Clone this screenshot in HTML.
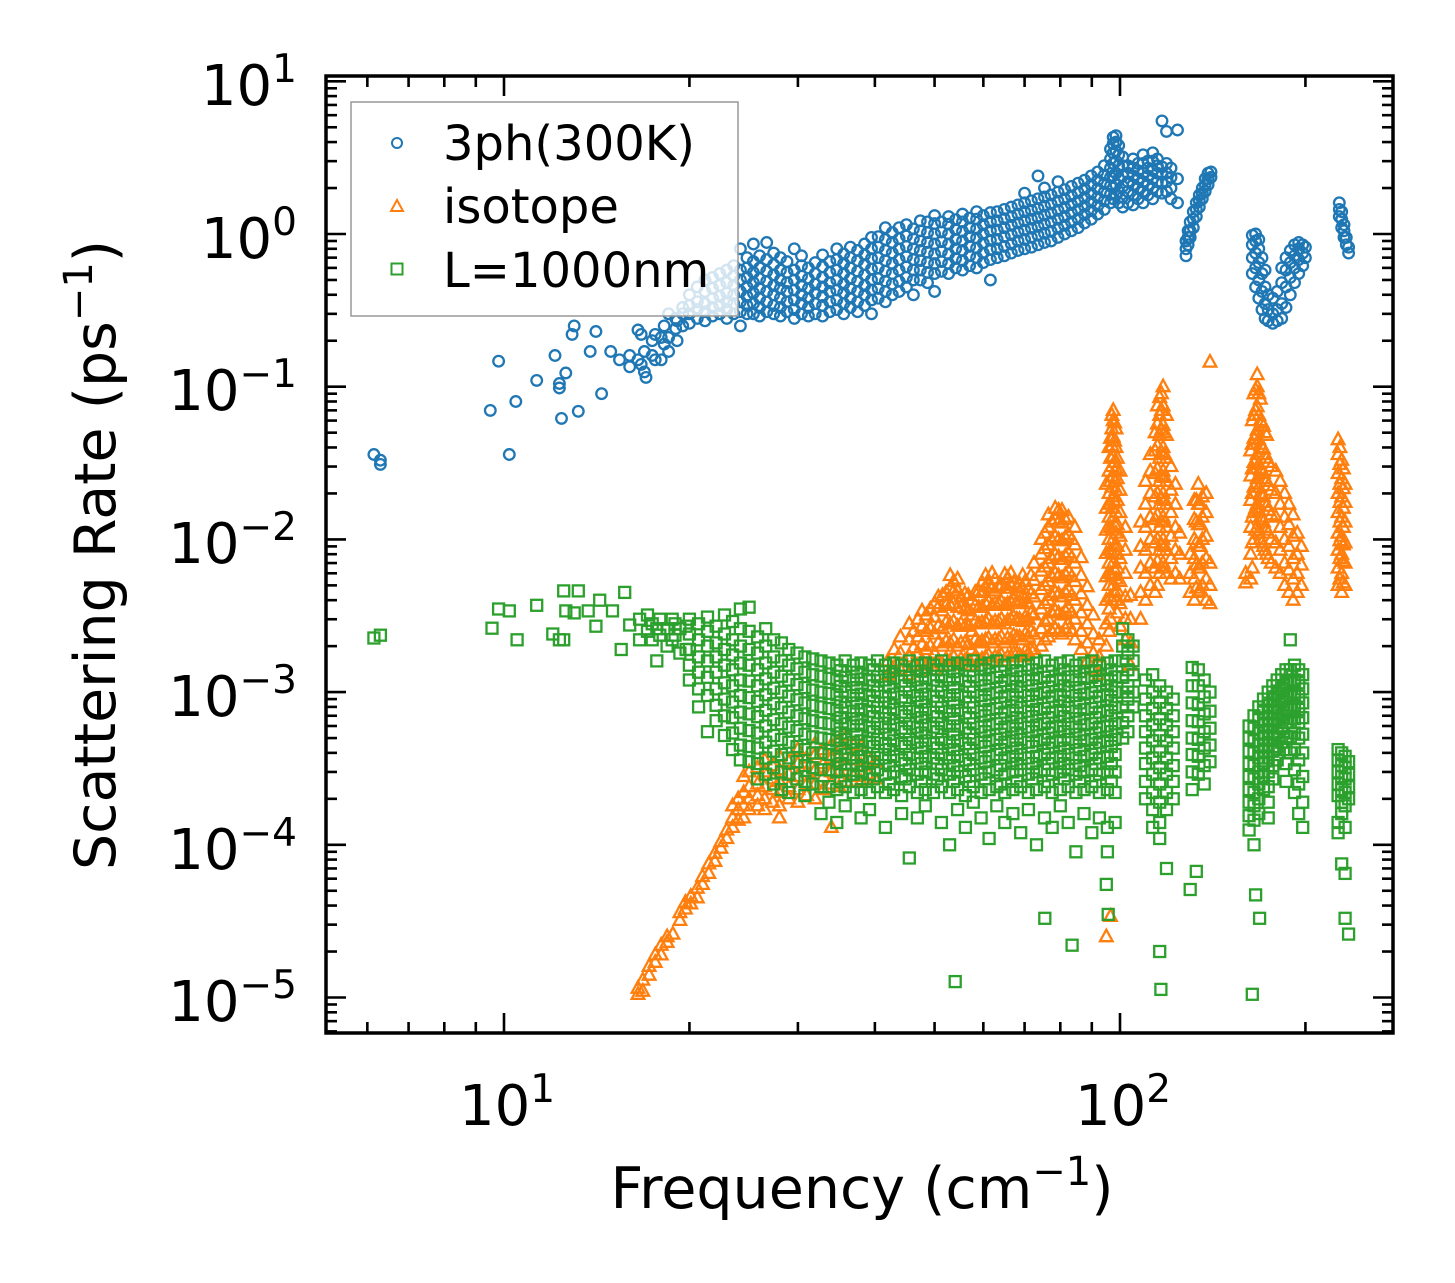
<!DOCTYPE html>
<html><head><meta charset="utf-8"><style>
html,body{margin:0;padding:0;background:#fff;}
svg{display:block;font-family:"DejaVu Sans","Liberation Sans",sans-serif;}
</style></head><body>
<svg id="chart" width="1455" height="1283" viewBox="0 0 1455 1283" xmlns="http://www.w3.org/2000/svg">
<defs><clipPath id="plotclip"><rect x="326" y="76" width="1067" height="957"/></clipPath></defs>
<rect x="0" y="0" width="1455" height="1283" fill="#fff"/>
<g id="series-layer" clip-path="url(#plotclip)"></g>
<g id="legend">
  <rect x="351" y="102" width="387" height="214" fill="#fff" fill-opacity="0.8" stroke="#999" stroke-width="1.5"/>
  <g>
    <circle cx="397" cy="143" r="5" fill="none" stroke="#1f77b4" stroke-width="2"/>
    <text x="443" y="160" font-size="48" fill="#000">3ph(300K)</text>
  </g>
  <g>
    <polygon points="397,200 391,211 403,211" fill="none" stroke="#ff7f0e" stroke-width="2"/>
    <text x="443" y="223" font-size="48" fill="#000">isotope</text>
  </g>
  <g>
    <rect x="391.5" y="263.5" width="11" height="11" fill="none" stroke="#2ca02c" stroke-width="2"/>
    <text x="443" y="287" font-size="48" fill="#000">L=1000nm</text>
  </g>
</g>
<g id="axes"></g>
<rect x="326" y="76" width="1067" height="957" fill="none" stroke="#000" stroke-width="3.5"/>
<g font-size="56" fill="#000" text-anchor="end">
  <text x="297" y="105">10<tspan font-size="39" dy="-23">1</tspan></text>
  <text x="297" y="258">10<tspan font-size="39" dy="-23">0</tspan></text>
  <text x="297" y="410">10<tspan font-size="39" dy="-23">−1</tspan></text>
  <text x="297" y="563">10<tspan font-size="39" dy="-23">−2</tspan></text>
  <text x="297" y="716">10<tspan font-size="39" dy="-23">−3</tspan></text>
  <text x="297" y="869">10<tspan font-size="39" dy="-23">−4</tspan></text>
  <text x="297" y="1021">10<tspan font-size="39" dy="-23">−5</tspan></text>
</g>
<g font-size="56" fill="#000">
  <text x="459" y="1125">10<tspan font-size="39" dy="-23">1</tspan></text>
  <text x="1075" y="1125">10<tspan font-size="39" dy="-23">2</tspan></text>
</g>
<text x="862" y="1208" font-size="57" text-anchor="middle" fill="#000">Frequency (cm<tspan font-size="40" dy="-23">−1</tspan><tspan dy="23">)</tspan></text>
<text transform="translate(115,555) rotate(-90)" x="0" y="0" font-size="57" text-anchor="middle" fill="#000">Scattering Rate (ps<tspan font-size="40" dy="-23">−1</tspan><tspan dy="23">)</tspan></text>
</svg>
<script>
// ---- 3ph(300K) data: column frequencies (cm^-1) and rates (ps^-1) ----
const ph3Freq = [6.15,6.3,9.5,9.8,10.2,10.45,11.3,12.1,12.3,12.4,12.6,12.9,13.0,13.2,13.8,14.1,14.4,14.9,15.4,16,16.5,16.7,16.9,17,17.4,17.6,18,18.2,18.5,19,19.1,19.5,
20,20.6,21.2,21.8,22.4,23,23.6,24.2,24.8,25.4,26,26.7,27.4,28.1,28.8,29.6,30.4,31.2,32,32.9,33.8,34.7,35.6,36.5,37.5,38.5,39.5,40.5,41.6,42.7,43.8,45,46.2,47.4,48.7,50,51.3,52.7,54.1,55.5,57,58.5,60,61.6,63.2,64.9,66.6,68.3,70,71.8,73.6,75.4,77.3,79.3,81.3,83.4,85.5,87.6,89.8,92,94.3,96.5,97.5,98.5,99.5,101,103,105,107,109,111,113,115,117,119,121,124,
128,129,130,131.5,133,134.5,136,137.5,139,140.5,
164,166,168,170,172,174,177,180,183,186,189,192,195,198,200,
227,229,231,233,235];
const ph3Rates = [[0.036],[0.031,0.033],[0.07],[0.147],[0.036],[0.08],[0.11],[0.16],[0.105,0.098],[0.062],[0.123],[0.22],[0.25],[0.069],[0.17],[0.23],[0.09],[0.17],[0.15],[0.135,0.16],[0.235,0.15],[0.22,0.14],[0.125,0.17],[0.115],[0.16,0.2],[0.15,0.22],[0.15,0.21],[0.19,0.25],[0.21,0.3,0.17],[0.24,0.28],[0.27,0.2],[0.25,0.3,0.33],
[0.26,0.3,0.34,0.4],[0.28,0.32,0.36,0.45],[0.27,0.31,0.35,0.42,0.5],[0.29,0.33,0.38,0.44,0.52],[0.3,0.34,0.39,0.46,0.55],[0.28,0.32,0.36,0.41,0.48,0.58],[0.3,0.35,0.4,0.46,0.53,0.62],[0.25,0.31,0.36,0.42,0.5,0.58,0.8],[0.3,0.34,0.39,0.45,0.52,0.6,0.7],[0.3,0.35,0.41,0.48,0.56,0.66,0.86],[0.29,0.33,0.38,0.44,0.51,0.6,0.72],[0.31,0.36,0.42,0.49,0.57,0.68,0.88],[0.3,0.34,0.4,0.46,0.54,0.63,0.75],[0.29,0.33,0.38,0.44,0.5,0.58,0.7],[0.31,0.36,0.42,0.48,0.56,0.66],[0.28,0.32,0.37,0.43,0.5,0.58,0.8],[0.3,0.35,0.4,0.46,0.53,0.62,0.72],[0.29,0.33,0.38,0.44,0.51,0.6],[0.3,0.35,0.41,0.47,0.55,0.65],[0.29,0.34,0.39,0.45,0.52,0.61,0.73],[0.31,0.36,0.42,0.48,0.56,0.66],[0.32,0.37,0.43,0.5,0.58,0.68,0.8],[0.3,0.35,0.41,0.47,0.55,0.64,0.74],[0.33,0.38,0.44,0.51,0.6,0.7,0.82],[0.31,0.36,0.42,0.49,0.57,0.67,0.78],[0.34,0.4,0.46,0.54,0.63,0.73,0.86],[0.3,0.37,0.43,0.5,0.59,0.69,0.8,0.95],[0.38,0.44,0.51,0.6,0.7,0.82,0.96],[0.36,0.42,0.49,0.57,0.67,0.78,0.92,1.1],[0.4,0.47,0.55,0.64,0.75,0.88,1.02],[0.42,0.49,0.58,0.68,0.8,0.93,1.1],[0.45,0.52,0.61,0.71,0.83,0.97,1.15],[0.4,0.5,0.58,0.68,0.8,0.93,1.08],[0.5,0.58,0.67,0.78,0.9,1.05,1.22],[0.48,0.56,0.65,0.76,0.88,1.02,1.2],[0.42,0.55,0.64,0.74,0.86,1.0,1.17,1.32],[0.57,0.66,0.77,0.89,1.03,1.2],[0.55,0.64,0.74,0.86,1.0,1.16,1.3],[0.6,0.69,0.8,0.92,1.07,1.24],[0.58,0.67,0.78,0.9,1.04,1.2,1.35],[0.62,0.72,0.83,0.96,1.1,1.27],[0.6,0.7,0.81,0.94,1.08,1.25,1.4],[0.65,0.75,0.87,1.0,1.15,1.32],[0.5,0.68,0.79,0.91,1.05,1.2,1.38],[0.7,0.8,0.92,1.06,1.22,1.4],[0.72,0.83,0.96,1.1,1.26,1.45],[0.75,0.86,0.99,1.14,1.3,1.5],[0.78,0.9,1.03,1.18,1.35,1.55],[0.8,0.92,1.06,1.22,1.4,1.6,1.85],[0.82,0.95,1.09,1.25,1.43,1.65],[0.85,0.98,1.12,1.28,1.47,1.7,2.4],[0.88,1.01,1.16,1.33,1.52,1.75,2.0],[0.9,1.04,1.2,1.37,1.57,1.8],[0.95,1.09,1.25,1.43,1.64,1.88,2.2],[1.0,1.14,1.3,1.49,1.7,1.95],[1.05,1.2,1.37,1.56,1.78,2.05],[1.1,1.26,1.44,1.64,1.87,2.15],[1.18,1.34,1.52,1.73,1.97,2.25],[1.25,1.42,1.62,1.84,2.1,2.4],[1.35,1.53,1.74,1.98,2.25,2.55],[1.45,1.65,1.88,2.14,2.43,2.8],[1.6,1.82,2.07,2.35,2.7,3.1,3.6],[1.7,2.0,2.4,2.9,3.4,3.9,4.3],[1.8,2.1,2.5,3.0,3.5,4.0,4.4],[1.6,1.9,2.3,2.8,3.3,3.8],[1.5,1.75,2.05,2.4,2.8,3.2],[1.6,1.9,2.2,2.5,2.8],[1.55,1.8,2.1,2.4,2.7,3.1],[1.7,2.0,2.3,2.6,2.9],[1.6,1.9,2.2,2.5,2.9,3.3],[1.8,2.1,2.4,2.7,3.0],[1.7,2.0,2.3,2.6,3.0,3.4],[1.9,2.2,2.5,2.8,3.1],[1.85,2.15,2.45,2.75,5.5],[1.9,2.2,2.5,2.9,4.7],[1.7,2.0,2.35,2.7],[1.6,2.3,4.8],
[0.72,0.8,0.9],[0.85,0.95,1.05],[0.95,1.05,1.2],[1.1,1.25,1.4],[1.3,1.45,1.6],[1.5,1.65,1.8],[1.7,1.85,2.0],[1.9,2.1,2.3],[2.1,2.3,2.5],[2.35,2.55],
[0.55,0.7,0.85,0.98],[0.45,0.6,0.75,0.9,1.0],[0.38,0.5,0.65,0.8,0.92],[0.32,0.42,0.55,0.7],[0.28,0.35,0.45,0.58],[0.27,0.32,0.4],[0.26,0.3,0.38],[0.27,0.32,0.42],[0.28,0.35,0.48,0.6],[0.33,0.45,0.58,0.7],[0.4,0.52,0.65,0.78],[0.48,0.6,0.72,0.85],[0.55,0.68,0.8,0.88],[0.62,0.75,0.85],[0.7,0.82],
[1.3,1.45,1.6],[1.1,1.25,1.4],[0.95,1.05,1.15],[0.85,0.95],[0.75,0.82]];

// ---- isotope data ----
const isoFreq = [16.5,16.8,17.2,17.6,18,18.4,18.8,19.3,19.7,20.1,20.6,21,21.5,22,22.5,23,23.5,24,24.5,25,25.8,26.5,27.3,28,29,30,31,32,33,34,35,36,37,38,39,40,
42,44,45.5,47,48.5,50,51.5,53,54.5,56,57.5,59,60.5,62,63.5,65,66.5,68,69.5,71,72.5,
74.5,76.5,78.5,80.5,82.5,84.5,86.5,88.5,90.5,92.5,
95,96.5,97.5,98.5,100,102,104,
108,110,112,114,116,117.5,119,121,123,125,
130,132,134,136,138,140,
160,163,165,167,169,171,173,176,179,182,185,188,191,194,197,
226,229,232,
43,46.2,47.7,49.2,50.7,52.2,53.7,55.2,56.7,58.2,59.7,61.2,62.7,64.2,65.7,67.2,68.7,70.2,71.7,
75.5,77.5,79.5,81.5,83.5,96,97,98,99,115,116.8,118.2,133,135,164,166,168,170,172,174,227.5,230.5];
const isoRates = [[1.05e-5,1.15e-5],[1.1e-5,1.3e-5],[1.4e-5,1.6e-5],[1.7e-5,1.9e-5],[1.9e-5,2.2e-5],[2.3e-5,2.5e-5],[2.6e-5],[3.2e-5,3.6e-5],[3.8e-5,4.2e-5],[4.1e-5,4.6e-5],[4.5e-5,5.2e-5],[5.5e-5,6.2e-5],[6.5e-5,7.5e-5],[7.8e-5,8.8e-5],[9.5e-5,1.05e-4],[1.1e-4,1.25e-4],[1.3e-4,1.5e-4,1.8e-4],[1.45e-4,1.7e-4,2.0e-4],[1.5e-4,1.8e-4,2.2e-4,2.8e-4],[1.7e-4,2.0e-4,2.4e-4,3.0e-4],[1.8e-4,2.1e-4,2.5e-4,3.2e-4],[1.7e-4,2.0e-4,2.4e-4,3.0e-4,3.6e-4],[1.9e-4,2.3e-4,2.7e-4,3.3e-4],[1.5e-4,1.8e-4,2.2e-4,2.6e-4,3.1e-4,3.8e-4],[2.0e-4,2.4e-4,2.9e-4,3.5e-4],[1.9e-4,2.3e-4,2.8e-4,3.4e-4,4.2e-4],[2.1e-4,2.5e-4,3.0e-4,3.7e-4],[2.0e-4,2.5e-4,3.1e-4,3.9e-4,4.6e-4],[2.3e-4,2.8e-4,3.4e-4,4.2e-4],[1.3e-4,2.5e-4,3.0e-4,3.7e-4,4.5e-4],[2.4e-4,3.0e-4,3.8e-4,4.8e-4],[2.6e-4,3.3e-4,4.2e-4,5.2e-4],[2.8e-4,3.6e-4,4.5e-4],[2.6e-4,3.3e-4,4.4e-4],[2.9e-4,3.7e-4],[2.7e-4,3.5e-4],
[1.3e-3,1.6e-3],[1.4e-3,1.8e-3,2.3e-3],[1.3e-3,1.7e-3,2.2e-3,2.8e-3],[1.4e-3,1.8e-3,2.3e-3,3.0e-3],[1.5e-3,1.9e-3,2.5e-3,3.2e-3],[1.4e-3,1.8e-3,2.4e-3,3.1e-3,3.8e-3],[1.5e-3,2.0e-3,2.6e-3,3.4e-3,4.3e-3],[1.6e-3,2.1e-3,2.8e-3,3.7e-3,4.8e-3,5.8e-3],[1.5e-3,2.0e-3,2.7e-3,3.6e-3,4.6e-3,5.5e-3],[1.6e-3,2.1e-3,2.7e-3,3.5e-3,4.4e-3],[1.5e-3,1.9e-3,2.5e-3,3.2e-3,4.0e-3],[1.6e-3,2.1e-3,2.8e-3,3.6e-3,4.6e-3],[1.7e-3,2.2e-3,2.9e-3,3.8e-3,4.9e-3,5.8e-3],[1.6e-3,2.1e-3,2.8e-3,3.7e-3,4.8e-3,6.0e-3],[1.7e-3,2.2e-3,2.9e-3,3.8e-3,4.9e-3],[1.6e-3,2.1e-3,2.8e-3,3.7e-3,4.8e-3,5.9e-3],[1.7e-3,2.2e-3,3.0e-3,3.9e-3,5.0e-3,6.0e-3],[1.8e-3,2.3e-3,3.0e-3,3.9e-3,4.9e-3],[1.7e-3,2.2e-3,2.9e-3,3.8e-3,4.8e-3,5.8e-3],[1.8e-3,2.3e-3,3.0e-3,3.8e-3,4.7e-3],[1.9e-3,2.4e-3,3.2e-3,4.2e-3,5.4e-3,7.0e-3],
[2.0e-3,2.6e-3,3.5e-3,4.7e-3,6.2e-3,8.0e-3,1.0e-2],[2.3e-3,3.0e-3,4.0e-3,5.3e-3,7.0e-3,9.2e-3,1.2e-2,1.45e-2],[2.6e-3,3.4e-3,4.5e-3,6.0e-3,7.9e-3,1.04e-2,1.35e-2,1.6e-2],[2.4e-3,3.2e-3,4.2e-3,5.6e-3,7.4e-3,9.8e-3,1.28e-2,1.55e-2],[2.8e-3,3.6e-3,4.7e-3,6.2e-3,8.2e-3,1.08e-2,1.4e-2],[2.2e-3,3.0e-3,4.0e-3,5.3e-3,7.0e-3,9.2e-3,1.2e-2],[1.9e-3,2.5e-3,3.3e-3,4.4e-3,5.8e-3,7.6e-3],[1.6e-3,2.1e-3,2.8e-3,3.7e-3,4.9e-3],[1.4e-3,1.8e-3,2.4e-3,3.2e-3],[1.3e-3,1.7e-3,2.2e-3],
[2.0e-3,2.8e-3,4.0e-3,5.7e-3,8.1e-3,1.15e-2,1.6e-2,2.3e-2,2.5e-5],[3.0e-3,4.2e-3,6.0e-3,8.5e-3,1.2e-2,1.7e-2,2.4e-2,3.4e-2,4.6e-2,3.4e-5],[5.0e-3,7.0e-3,1.0e-2,1.4e-2,1.9e-2,2.6e-2,3.5e-2,4.7e-2,6.0e-2,7.0e-2],[4.0e-3,5.5e-3,8.0e-3,1.1e-2,1.5e-2,2.1e-2,2.9e-2,4.0e-2,5.3e-2],[2.7e-3,3.8e-3,5.3e-3,7.5e-3,1.05e-2,1.5e-2,2.1e-2,2.8e-2],[2.2e-3,3.0e-3,4.2e-3,6.0e-3,8.5e-3,1.2e-2],[1.5e-3,2.1e-3,3.0e-3,4.3e-3],
[3.0e-3,4.5e-3,6.5e-3,9.0e-3,1.3e-2],[4.0e-3,6.0e-3,8.5e-3,1.2e-2,1.7e-2,2.4e-2],[5.0e-3,7.0e-3,1.0e-2,1.4e-2,2.0e-2,2.8e-2,3.6e-2],[4.5e-3,6.5e-3,9.5e-3,1.35e-2,1.9e-2,2.7e-2,3.8e-2,5.0e-2],[6.0e-3,8.5e-3,1.2e-2,1.7e-2,2.4e-2,3.4e-2,4.8e-2,6.5e-2,8.5e-2],[7.0e-3,1.0e-2,1.4e-2,2.0e-2,2.8e-2,4.0e-2,5.6e-2,7.5e-2,1.0e-1],[6.0e-3,8.5e-3,1.2e-2,1.7e-2,2.4e-2,3.4e-2,4.8e-2,6.5e-2],[5.5e-3,7.5e-3,1.05e-2,1.5e-2,2.1e-2,3.0e-2],[6.0e-3,8.5e-3,1.2e-2,1.7e-2,2.3e-2],[5.5e-3,8e-3,1.1e-2],
[4.5e-3,6.0e-3,8.0e-3],[4.0e-3,5.5e-3,7.5e-3,1.0e-2,1.35e-2,1.8e-2],[4.5e-3,6.5e-3,9.0e-3,1.25e-2,1.7e-2,2.3e-2],[5.0e-3,7.0e-3,1.0e-2,1.4e-2,1.9e-2],[4.0e-3,5.5e-3,7.5e-3,1.05e-2,1.5e-2,2.0e-2],[3.8e-3,5.0e-3,7.0e-3,0.145],
[6.0e-3,5.2e-3],[5.5e-3,8e-3,1.2e-2,1.8e-2,2.6e-2,3.8e-2],[1.0e-2,1.5e-2,2.2e-2,3.2e-2,4.6e-2,6.5e-2,9.0e-2],[1.2e-2,1.7e-2,2.5e-2,3.6e-2,5.2e-2,7.4e-2,0.1,0.12],[1.0e-2,1.4e-2,2.0e-2,2.9e-2,4.2e-2,6.0e-2,8.3e-2],[9e-3,1.3e-2,1.9e-2,2.7e-2,3.9e-2,5.5e-2],[8e-3,1.15e-2,1.65e-2,2.4e-2,3.4e-2,4.8e-2],[7e-3,1.0e-2,1.45e-2,2.1e-2,3.0e-2],[6.5e-3,9.5e-3,1.4e-2,2.0e-2,2.8e-2],[6e-3,8.5e-3,1.2e-2,1.7e-2,2.4e-2],[5e-3,7e-3,1.0e-2,1.4e-2,2.0e-2],[4.5e-3,6.3e-3,9e-3,1.25e-2,1.7e-2],[4e-3,5.5e-3,7.5e-3,1.05e-2,1.45e-2],[4.5e-3,6e-3,8e-3,1.1e-2],[5e-3,6.8e-3,9e-3],
[5e-3,6.5e-3,8.5e-3,1.1e-2,1.5e-2,2e-2,2.7e-2,3.6e-2,4.5e-2],[4.5e-3,6e-3,8e-3,1.05e-2,1.4e-2,1.9e-2,2.5e-2,3.3e-2],[5e-3,7e-3,9.5e-3,1.3e-2,1.75e-2,2.3e-2],
[1.45e-3,1.9e-3],[1.5e-3,1.95e-3,2.5e-3],[1.6e-3,2.05e-3,2.7e-3,3.4e-3],[1.55e-3,2.0e-3,2.6e-3,3.5e-3],[1.6e-3,2.1e-3,2.7e-3,3.6e-3,4.2e-3],[1.65e-3,2.15e-3,2.85e-3,3.7e-3,4.5e-3],[1.7e-3,2.2e-3,2.9e-3,3.8e-3,4.6e-3,5.3e-3],[1.65e-3,2.1e-3,2.8e-3,3.6e-3,4.2e-3],[1.6e-3,2.05e-3,2.7e-3,3.4e-3,4.3e-3],[1.7e-3,2.2e-3,2.9e-3,3.7e-3,4.5e-3],[1.65e-3,2.15e-3,2.85e-3,3.6e-3,4.5e-3,5.2e-3],[1.75e-3,2.25e-3,3.0e-3,3.9e-3,5.1e-3],[1.7e-3,2.2e-3,2.9e-3,3.8e-3,4.6e-3,5.5e-3],[1.75e-3,2.3e-3,3.0e-3,3.9e-3,5.0e-3],[1.7e-3,2.25e-3,2.95e-3,3.8e-3,4.8e-3,5.6e-3],[1.8e-3,2.35e-3,3.1e-3,4.0e-3,5.2e-3],[1.75e-3,2.3e-3,3.0e-3,3.9e-3,5.1e-3],[1.85e-3,2.4e-3,3.1e-3,4.1e-3,5.3e-3],[1.9e-3,2.5e-3,3.3e-3,4.4e-3,5.8e-3],
[2.2e-3,2.9e-3,3.8e-3,5.0e-3,6.6e-3,8.7e-3,1.1e-2],[2.5e-3,3.3e-3,4.3e-3,5.7e-3,7.5e-3,9.9e-3,1.3e-2],[2.5e-3,3.3e-3,4.4e-3,5.8e-3,7.7e-3,1.0e-2,1.3e-2,1.55e-2],[2.6e-3,3.4e-3,4.5e-3,5.9e-3,7.8e-3,1.03e-2,1.35e-2],[2.5e-3,3.3e-3,4.3e-3,5.7e-3,7.6e-3,1.0e-2],[2.5e-3,3.5e-3,5.0e-3,7.0e-3,1.0e-2,1.4e-2,2.0e-2,2.8e-2,4.0e-2],[4.0e-3,5.8e-3,8.2e-3,1.15e-2,1.6e-2,2.2e-2,3.0e-2,4.1e-2,5.3e-2,6.5e-2],[4.5e-3,6.3e-3,9.0e-3,1.25e-2,1.75e-2,2.4e-2,3.2e-2,4.4e-2,5.8e-2],[3.3e-3,4.6e-3,6.5e-3,9.0e-3,1.25e-2,1.8e-2,2.5e-2,3.4e-2],[5.0e-3,7.2e-3,1.0e-2,1.45e-2,2.0e-2,2.9e-2,4.1e-2,5.7e-2,7.5e-2],[6.5e-3,9.2e-3,1.3e-2,1.85e-2,2.6e-2,3.7e-2,5.2e-2,7.0e-2,9.0e-2],[6.5e-3,9.0e-3,1.3e-2,1.8e-2,2.55e-2,3.6e-2,5.0e-2],[4.8e-3,6.8e-3,9.5e-3,1.3e-2,1.8e-2],[4.6e-3,6.5e-3,9.0e-3,1.25e-2,1.7e-2],[6.5e-3,9.5e-3,1.4e-2,2.0e-2,2.9e-2,4.2e-2,6.0e-2],[1.15e-2,1.6e-2,2.3e-2,3.3e-2,4.8e-2,7.0e-2,9.5e-2],[1.1e-2,1.55e-2,2.2e-2,3.1e-2,4.5e-2,6.5e-2,9.0e-2],[9.5e-3,1.35e-2,1.95e-2,2.8e-2,4.0e-2,5.8e-2],[8.5e-3,1.2e-2,1.75e-2,2.5e-2,3.6e-2,5.0e-2],[7.5e-3,1.1e-2,1.55e-2,2.25e-2,3.2e-2],[5.5e-3,7.5e-3,9.8e-3,1.3e-2,1.75e-2,2.3e-2,3.1e-2,4.0e-2],[5.2e-3,7.2e-3,9.2e-3,1.2e-2,1.6e-2,2.15e-2,2.9e-2]];

// ---- L=1000nm boundary data ----
const bdFreq = [6.15,6.3,9.56,9.8,10.2,10.5,11.3,12.0,12.3,12.5,12.6,13,13.2,13.7,14.1,14.3,15,15.5,15.7,16,16.6,17.1,17.4,17.7,17.9,18.4,18.75,18.95,19.3,19.75,
20,20.7,21.4,22.1,22.8,23.5,24.2,25,25.8,26.6,27.4,28.2,29,29.9,30.8,31.7,32.7,33.7,34.7,35.8,36.9,38,39.2,40.4,41.6,42.9,44.2,45.5,46.9,48.3,49.8,51.3,52.9,54.5,56.1,57.8,59.5,61.3,63.1,65,67,69,71,73.2,75.4,77.6,80,82.4,84.8,87.4,90,92.6,95.4,98.2,
35.2,37.4,39.8,42.2,44.8,47.6,50.5,53.7,57,60.4,64,68,72,76.5,81.2,86,91.3,96.8,
101,103,105,110,113,116,119,122,131,134,137,140,
162,165,168,171,174,177,180,183,186,189,192,195,198,
226,229,232,235,
54,75.5,83.6,95,95.7,116,116.5,130,133,164,166,168.5];
const bdRates = [[2.26e-3],[2.36e-3],[2.62e-3],[3.5e-3],[3.4e-3],[2.2e-3],[3.7e-3],[2.4e-3],[2.2e-3],[4.6e-3,2.2e-3],[3.4e-3],[3.3e-3],[4.6e-3],[3.4e-3],[2.7e-3],[4.0e-3],[3.4e-3],[1.9e-3],[4.5e-3],[2.75e-3],[3.0e-3,2.2e-3],[3.2e-3,2.5e-3],[2.2e-3,2.8e-3],[1.6e-3,2.6e-3],[2.36e-3,3.0e-3],[2.6e-3,2.0e-3],[3.0e-3,2.2e-3],[2.36e-3,2.8e-3],[2.6e-3,1.8e-3],[1.9e-3,2.7e-3],
[3.0e-3,2.4e-3,1.9e-3,1.5e-3,1.2e-3],[2.8e-3,2.2e-3,1.7e-3,1.35e-3,1.05e-3,8e-4],[3.1e-3,2.5e-3,2.0e-3,1.6e-3,1.25e-3,9.5e-4,5.5e-4],[2.7e-3,2.1e-3,1.7e-3,1.35e-3,1.05e-3,8.2e-4,6.5e-4],[3.2e-3,2.4e-3,1.9e-3,1.5e-3,1.15e-3,9e-4,7e-4,5.2e-4],[2.9e-3,2.2e-3,1.75e-3,1.4e-3,1.1e-3,8.6e-4,6.8e-4,5.4e-4,4.2e-4],[3.5e-3,2.6e-3,2.0e-3,1.55e-3,1.2e-3,9.5e-4,7.4e-4,5.8e-4,4.5e-4,3.6e-4],[3.6e-3,2.5e-3,1.9e-3,1.5e-3,1.18e-3,9.2e-4,7.2e-4,5.6e-4,4.4e-4,3.5e-4],[2.3e-3,1.8e-3,1.4e-3,1.1e-3,8.7e-4,6.9e-4,5.4e-4,4.3e-4,3.4e-4,2.7e-4],[2.6e-3,2.0e-3,1.55e-3,1.22e-3,9.6e-4,7.6e-4,6.0e-4,4.7e-4,3.7e-4,2.9e-4],[2.2e-3,1.7e-3,1.35e-3,1.06e-3,8.4e-4,6.6e-4,5.2e-4,4.1e-4,3.2e-4,2.5e-4],[2.1e-3,1.6e-3,1.27e-3,1.0e-3,7.9e-4,6.2e-4,4.9e-4,3.9e-4,3.0e-4,2.3e-4],[1.9e-3,1.5e-3,1.2e-3,9.4e-4,7.4e-4,5.9e-4,4.7e-4,3.7e-4,2.9e-4,2.2e-4],[1.8e-3,1.42e-3,1.12e-3,8.9e-4,7.0e-4,5.6e-4,4.4e-4,3.5e-4,2.7e-4],[1.7e-3,1.35e-3,1.07e-3,8.5e-4,6.7e-4,5.3e-4,4.2e-4,3.3e-4,2.6e-4,2.1e-4],[1.65e-3,1.3e-3,1.03e-3,8.2e-4,6.5e-4,5.1e-4,4.0e-4,3.2e-4,2.5e-4],[1.6e-3,1.27e-3,1.0e-3,8e-4,6.3e-4,5e-4,4e-4,3.1e-4,2.4e-4,1.6e-4],[1.55e-3,1.23e-3,9.8e-4,7.8e-4,6.2e-4,4.9e-4,3.9e-4,3.1e-4,2.4e-4,1.9e-4],[1.5e-3,1.2e-3,9.6e-4,7.6e-4,6.0e-4,4.8e-4,3.8e-4,3.0e-4,2.3e-4,1.4e-4],[1.6e-3,1.25e-3,1.0e-3,7.9e-4,6.2e-4,4.9e-4,3.9e-4,3.1e-4,2.4e-4,1.8e-4],[1.5e-3,1.2e-3,9.5e-4,7.5e-4,6.0e-4,4.7e-4,3.7e-4,2.9e-4,2.2e-4],[1.55e-3,1.22e-3,9.7e-4,7.7e-4,6.1e-4,4.8e-4,3.8e-4,3.0e-4,2.3e-4,1.5e-4],[1.5e-3,1.2e-3,9.5e-4,7.5e-4,5.9e-4,4.7e-4,3.7e-4,2.9e-4,2.2e-4,1.7e-4],[1.6e-3,1.26e-3,1.0e-3,7.9e-4,6.2e-4,4.9e-4,3.9e-4,3.1e-4,2.4e-4],[1.5e-3,1.2e-3,9.4e-4,7.4e-4,5.9e-4,4.6e-4,3.7e-4,2.9e-4,2.2e-4,1.3e-4],[1.55e-3,1.23e-3,9.7e-4,7.7e-4,6.1e-4,4.8e-4,3.8e-4,3.0e-4,2.3e-4],[1.5e-3,1.18e-3,9.3e-4,7.4e-4,5.8e-4,4.6e-4,3.6e-4,2.8e-4,2.1e-4,1.6e-4],[1.6e-3,1.25e-3,1e-3,7.8e-4,6.2e-4,4.9e-4,3.9e-4,3.1e-4,2.4e-4,8.2e-5],[1.5e-3,1.2e-3,9.5e-4,7.5e-4,5.9e-4,4.7e-4,3.7e-4,2.9e-4,2.2e-4,1.5e-4],[1.55e-3,1.23e-3,9.7e-4,7.7e-4,6.1e-4,4.8e-4,3.8e-4,3.0e-4,2.3e-4,1.8e-4],[1.5e-3,1.2e-3,9.4e-4,7.4e-4,5.9e-4,4.6e-4,3.7e-4,2.9e-4,2.2e-4],[1.6e-3,1.26e-3,1e-3,7.9e-4,6.2e-4,4.9e-4,3.9e-4,3.1e-4,2.4e-4,1.4e-4],[1.5e-3,1.2e-3,9.5e-4,7.5e-4,6e-4,4.7e-4,3.7e-4,2.9e-4,2.2e-4,1.0e-4],[1.55e-3,1.22e-3,9.6e-4,7.6e-4,6.0e-4,4.8e-4,3.8e-4,3.0e-4,2.3e-4,1.7e-4],[1.5e-3,1.18e-3,9.3e-4,7.3e-4,5.8e-4,4.6e-4,3.6e-4,2.8e-4,2.1e-4,1.3e-4],[1.6e-3,1.26e-3,1.0e-3,7.9e-4,6.2e-4,4.9e-4,3.9e-4,3.1e-4,2.4e-4,1.9e-4],[1.5e-3,1.2e-3,9.5e-4,7.5e-4,5.9e-4,4.7e-4,3.7e-4,2.9e-4,2.2e-4,1.5e-4],[1.55e-3,1.23e-3,9.7e-4,7.7e-4,6.1e-4,4.8e-4,3.8e-4,3.0e-4,2.3e-4,1.1e-4],[1.6e-3,1.25e-3,9.9e-4,7.8e-4,6.2e-4,4.9e-4,3.9e-4,3.1e-4,2.4e-4,1.8e-4],[1.5e-3,1.19e-3,9.4e-4,7.4e-4,5.9e-4,4.7e-4,3.7e-4,2.9e-4,2.2e-4,1.4e-4],[1.55e-3,1.22e-3,9.6e-4,7.6e-4,6.0e-4,4.8e-4,3.8e-4,3.0e-4,2.3e-4,1.6e-4],[1.6e-3,1.26e-3,1.0e-3,7.9e-4,6.2e-4,4.9e-4,3.9e-4,3.1e-4,2.4e-4,1.2e-4],[1.5e-3,1.2e-3,9.5e-4,7.5e-4,5.9e-4,4.7e-4,3.7e-4,2.9e-4,2.2e-4,1.7e-4],[1.55e-3,1.23e-3,9.7e-4,7.7e-4,6.1e-4,4.8e-4,3.8e-4,3.0e-4,2.3e-4,1.0e-4],[1.6e-3,1.25e-3,9.9e-4,7.8e-4,6.2e-4,4.9e-4,3.9e-4,3.1e-4,2.4e-4,1.5e-4],[1.5e-3,1.19e-3,9.4e-4,7.4e-4,5.9e-4,4.7e-4,3.7e-4,2.9e-4,2.2e-4,1.3e-4],[1.55e-3,1.22e-3,9.6e-4,7.6e-4,6.0e-4,4.8e-4,3.8e-4,3.0e-4,2.3e-4,1.8e-4],[1.6e-3,1.26e-3,1.0e-3,7.9e-4,6.2e-4,4.9e-4,3.9e-4,3.1e-4,2.4e-4,1.4e-4],[1.5e-3,1.2e-3,9.5e-4,7.5e-4,5.9e-4,4.7e-4,3.7e-4,2.9e-4,2.2e-4,9e-5],[1.55e-3,1.23e-3,9.7e-4,7.7e-4,6.1e-4,4.8e-4,3.8e-4,3.0e-4,2.3e-4,1.6e-4],[1.6e-3,1.25e-3,9.9e-4,7.8e-4,6.2e-4,4.9e-4,3.9e-4,3.1e-4,2.4e-4,1.2e-4],[1.5e-3,1.19e-3,9.4e-4,7.4e-4,5.9e-4,4.7e-4,3.7e-4,2.9e-4,2.2e-4,1.5e-4],[1.55e-3,1.22e-3,9.6e-4,7.6e-4,6.0e-4,4.8e-4,3.8e-4,3.0e-4,2.3e-4,1.3e-4,9e-5],[1.6e-3,1.26e-3,1.0e-3,7.9e-4,6.2e-4,4.9e-4,3.9e-4,3.0e-4,2.2e-4,1.4e-4],
[1.38e-3,1.09e-3,8.6e-4,6.8e-4,5.4e-4,4.3e-4,3.4e-4,2.6e-4],[1.35e-3,1.07e-3,8.5e-4,6.7e-4,5.3e-4,4.2e-4,3.3e-4,2.6e-4],[1.4e-3,1.1e-3,8.7e-4,6.9e-4,5.5e-4,4.4e-4,3.5e-4,2.7e-4],[1.36e-3,1.08e-3,8.5e-4,6.7e-4,5.3e-4,4.2e-4,3.3e-4,2.5e-4],[1.4e-3,1.1e-3,8.8e-4,7.0e-4,5.5e-4,4.4e-4,3.4e-4,2.7e-4],[1.37e-3,1.08e-3,8.6e-4,6.8e-4,5.4e-4,4.3e-4,3.4e-4,2.6e-4],[1.4e-3,1.1e-3,8.7e-4,6.9e-4,5.5e-4,4.3e-4,3.4e-4,2.7e-4],[1.36e-3,1.07e-3,8.5e-4,6.7e-4,5.3e-4,4.2e-4,3.3e-4,2.6e-4],[1.38e-3,1.09e-3,8.6e-4,6.8e-4,5.4e-4,4.3e-4,3.4e-4,2.6e-4],[1.4e-3,1.1e-3,8.8e-4,7.0e-4,5.5e-4,4.4e-4,3.5e-4,2.7e-4],[1.36e-3,1.08e-3,8.5e-4,6.7e-4,5.3e-4,4.2e-4,3.3e-4,2.5e-4],[1.38e-3,1.09e-3,8.6e-4,6.8e-4,5.4e-4,4.3e-4,3.4e-4,2.6e-4],[1.4e-3,1.1e-3,8.7e-4,6.9e-4,5.5e-4,4.4e-4,3.4e-4,2.7e-4],[1.37e-3,1.08e-3,8.6e-4,6.8e-4,5.4e-4,4.3e-4,3.4e-4,2.6e-4],[1.4e-3,1.1e-3,8.7e-4,6.9e-4,5.5e-4,4.3e-4,3.4e-4,2.7e-4],[1.36e-3,1.07e-3,8.5e-4,6.7e-4,5.3e-4,4.2e-4,3.3e-4,2.6e-4],[1.38e-3,1.09e-3,8.6e-4,6.8e-4,5.4e-4,4.3e-4,3.4e-4,2.6e-4],[1.4e-3,1.1e-3,8.8e-4,7.0e-4,5.5e-4,4.4e-4,3.4e-4,2.6e-4],
[2.6e-3,2.0e-3,1.6e-3,1.25e-3,1.0e-3,8e-4,6.3e-4,5e-4],[2.2e-3,1.8e-3,1.4e-3,1.1e-3,9e-4,7e-4,5.5e-4],[2.0e-3,1.6e-3,1.3e-3,1.0e-3,8e-4],[1.2e-3,9e-4,7e-4,5.5e-4,4.3e-4,3.4e-4,2.6e-4,2.0e-4],[1.3e-3,1.0e-3,7.8e-4,6.1e-4,4.8e-4,3.7e-4,2.9e-4,2.2e-4,1.7e-4,1.3e-4],[1.1e-3,8.6e-4,6.7e-4,5.2e-4,4.1e-4,3.2e-4,2.5e-4,1.9e-4,1.4e-4,1.1e-4],[1.0e-3,7.8e-4,6.1e-4,4.8e-4,3.7e-4,2.9e-4,2.2e-4,1.7e-4,7e-5],[9e-4,7e-4,5.5e-4,4.3e-4,3.3e-4,2.6e-4,2.0e-4],[1.45e-3,1.1e-3,8.5e-4,6.5e-4,5e-4,3.9e-4,3e-4,2.3e-4],[1.4e-3,1.1e-3,8.3e-4,6.4e-4,4.9e-4,3.8e-4,2.9e-4],[1.2e-3,9.3e-4,7.2e-4,5.5e-4,4.3e-4,3.3e-4,2.5e-4],[1.0e-3,7.5e-4,5.8e-4,4.5e-4,3.5e-4],
[6e-4,5e-4,4.1e-4,3.4e-4,2.8e-4,2.3e-4,1.9e-4,1.55e-4,1.25e-4],[7e-4,5.8e-4,4.8e-4,4.0e-4,3.3e-4,2.7e-4,2.2e-4,1.8e-4,1.45e-4,1.0e-4],[8e-4,6.6e-4,5.4e-4,4.5e-4,3.7e-4,3.0e-4,2.5e-4,2.0e-4,1.6e-4],[9e-4,7.4e-4,6.1e-4,5.0e-4,4.1e-4,3.4e-4,2.8e-4,2.3e-4],[1.0e-3,8.2e-4,6.7e-4,5.5e-4,4.5e-4,3.7e-4,3.0e-4,2.4e-4,1.9e-4,1.5e-4],[1.1e-3,9e-4,7.4e-4,6.1e-4,5.0e-4,4.1e-4,3.3e-4,2.7e-4],[1.2e-3,9.8e-4,8e-4,6.6e-4,5.4e-4,4.4e-4,3.6e-4],[1.3e-3,1.06e-3,8.7e-4,7.1e-4,5.8e-4,4.7e-4],[1.4e-3,1.15e-3,9.4e-4,7.7e-4,6.3e-4,5.1e-4,4.2e-4,3.4e-4,2.6e-4],[2.2e-3,1.4e-3,1.15e-3,9.4e-4,7.7e-4,6.3e-4,5.1e-4,4.0e-4],[1.5e-3,1.2e-3,1.0e-3,8.2e-4,6.7e-4,5.4e-4,4.2e-4,3.1e-4,2.2e-4],[1.4e-3,1.15e-3,9.4e-4,7.7e-4,6.3e-4,5.0e-4,3.6e-4,2.5e-4,1.6e-4],[1.3e-3,1.05e-3,8.5e-4,6.8e-4,5.3e-4,4.0e-4,2.8e-4,1.9e-4,1.3e-4],
[4.2e-4,3.6e-4,3.0e-4,2.5e-4,2.1e-4,1.4e-4,1.2e-4],[4.0e-4,3.3e-4,2.8e-4,2.3e-4,1.9e-4,1.6e-4,7.5e-5],[3.8e-4,3.2e-4,2.7e-4,2.2e-4,1.8e-4,1.3e-4,6.5e-5,3.3e-5],[3.5e-4,2.9e-4,2.4e-4,2.0e-4,2.6e-5],
[1.27e-5],[3.3e-5],[2.2e-5],[5.5e-5],[3.5e-5],[2.0e-5],[1.13e-5],[5.1e-5],[6.7e-5],[1.05e-5],[4.7e-5],[3.3e-5]];

// ---- axis ticks ----
const xMajorTicks = [10,100];
const xMinorTicks = [6,7,8,9,20,30,40,50,60,70,80,90,200];
const yMajorTicks = [1e-5,1e-4,1e-3,1e-2,1e-1,1,10];
const yMinorMult = [2,3,4,5,6,7,8,9];
const yMinorDecades = [1e-6,1e-5,1e-4,1e-3,1e-2,1e-1,1];

const NS = 'http://www.w3.org/2000/svg';
const PL = 326, PR = 1393, PT = 76, PB = 1033;
function X(f){ return 504 + 616*(Math.log10(f) - 1); }
function Y(r){ return 234 - 152.7*Math.log10(r); }

const layer = document.getElementById('series-layer');
const axes = document.getElementById('axes');

function drawSeries(freqs, rates, kind){
  const g = document.createElementNS(NS,'g');
  
  
  layer.appendChild(g);
  for (let i = 0; i < freqs.length; i++){
    const x = X(freqs[i]);
    const col = rates[i] || [];
    for (let j = 0; j < col.length; j++){
      const y = Y(col[j]);
      let el;
      if (kind === 'ph3'){
        el = document.createElementNS(NS,'circle');
        el.setAttribute('cx', x.toFixed(1));
        el.setAttribute('cy', y.toFixed(1));
        el.setAttribute('r', 5.3);
        el.setAttribute('stroke', '#1f77b4');
      } else if (kind === 'isotope'){
        el = document.createElementNS(NS,'polygon');
        el.setAttribute('points', x.toFixed(1)+','+(y-7).toFixed(1)+' '+(x-6.3).toFixed(1)+','+(y+4.5).toFixed(1)+' '+(x+6.3).toFixed(1)+','+(y+4.5).toFixed(1));
        el.setAttribute('stroke', '#ff7f0e');
      } else {
        el = document.createElementNS(NS,'rect');
        el.setAttribute('x', (x-5.5).toFixed(1));
        el.setAttribute('y', (y-5.5).toFixed(1));
        el.setAttribute('width', 11);
        el.setAttribute('height', 11);
        el.setAttribute('stroke', '#2ca02c');
      }
      el.setAttribute('fill', 'none');
      el.setAttribute('stroke-width', 2.3);
      
      
      g.appendChild(el);
    }
  }
}
drawSeries(ph3Freq, ph3Rates, 'ph3');
drawSeries(isoFreq, isoRates, 'isotope');
drawSeries(bdFreq, bdRates, 'boundary');

function tick(x1,y1,x2,y2,name){
  const l = document.createElementNS(NS,'line');
  l.setAttribute('x1',x1); l.setAttribute('y1',y1);
  l.setAttribute('x2',x2); l.setAttribute('y2',y2);
  l.setAttribute('stroke','#000'); l.setAttribute('stroke-width',2.6);
  
  
  axes.appendChild(l);
}
xMajorTicks.forEach(v => { const x = X(v); tick(x,PB,x,PB-20,'x-major-tick'); tick(x,PT,x,PT+20,'x-major-tick-top'); });
xMinorTicks.forEach(v => { const x = X(v); if (x > PL && x < PR){ tick(x,PB,x,PB-11,'x-minor-tick'); tick(x,PT,x,PT+11,'x-minor-tick-top'); } });
yMajorTicks.forEach(v => { const y = Y(v); tick(PL,y,PL+20,y,'y-major-tick'); tick(PR,y,PR-20,y,'y-major-tick-right'); });
yMinorDecades.forEach(d => yMinorMult.forEach(m => { const y = Y(d*m); if (y > PT+1 && y < PB-1){ tick(PL,y,PL+11,y,'y-minor-tick'); tick(PR,y,PR-11,y,'y-minor-tick-right'); } }));
</script>
</body></html>
